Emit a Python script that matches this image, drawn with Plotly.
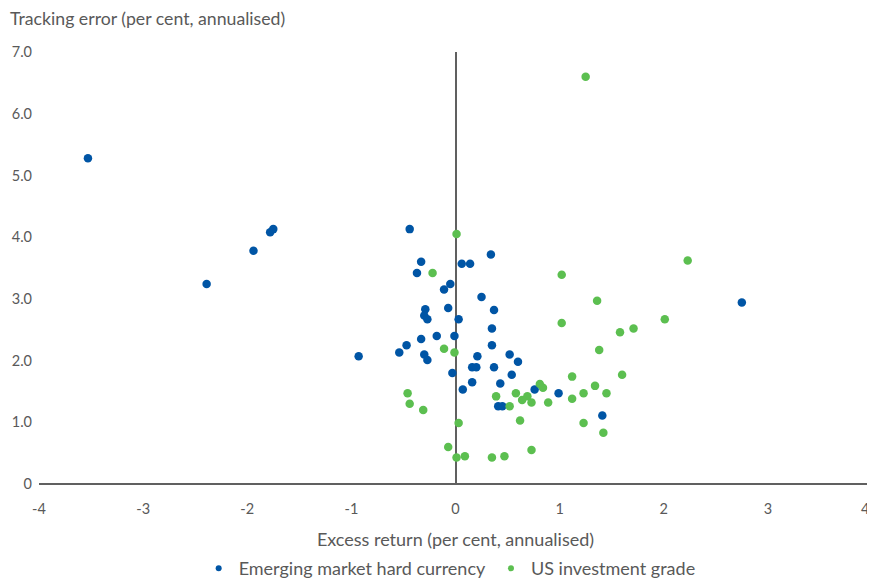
import plotly.graph_objects as go

em_x = [-3.53, -2.39, -1.94, -1.78, -1.75, -0.93, -0.44, -0.33, -0.37, -0.05, -0.11, 0.25,
        -0.29, -0.07, -0.30, -0.27, 0.03, -0.33, -0.18, -0.01, -0.47, -0.54, -0.30, -0.27,
        0.34, 0.06, 0.14, 0.37, 0.35, 0.35, 0.21, 0.16, 0.20, -0.03, 0.16, 0.07, 0.52, 0.60,
        0.37, 0.54, 0.43, 0.76, 0.99, 0.41, 0.45, 1.41, 2.75, 1.18]
em_y = [5.28, 3.24, 3.78, 4.08, 4.13, 2.07, 4.13, 3.60, 3.42, 3.24, 3.15, 3.03,
        2.83, 2.85, 2.73, 2.67, 2.67, 2.35, 2.40, 2.40, 2.25, 2.13, 2.10, 2.01,
        3.72, 3.57, 3.57, 2.82, 2.52, 2.25, 2.07, 1.89, 1.89, 1.80, 1.65, 1.53, 2.10, 1.98,
        1.89, 1.77, 1.63, 1.53, 1.47, 1.26, 1.26, 1.11, 2.94, -0.19]

us_x = [-0.22, 0.01, 1.02, 1.36, 1.02, 1.58, 1.71, 1.38, 2.23, 2.01, 1.25, -0.11, -0.01,
        -0.46, -0.44, -0.31, 0.03, -0.07, 0.01, 0.09, 0.35, 0.47, 0.73, 1.60, 1.12, 1.34,
        1.45, 1.23, 1.12, 0.81, 0.84, 0.39, 0.58, 0.69, 0.64, 0.73, 0.89, 0.52, 0.62, 1.23, 1.42]
us_y = [3.42, 4.05, 3.39, 2.97, 2.61, 2.46, 2.52, 2.17, 3.62, 2.67, 6.60, 2.19, 2.13,
        1.47, 1.30, 1.20, 0.99, 0.60, 0.43, 0.45, 0.43, 0.45, 0.55, 1.77, 1.74, 1.59,
        1.47, 1.47, 1.38, 1.62, 1.56, 1.42, 1.47, 1.42, 1.36, 1.32, 1.32, 1.26, 1.03, 0.99, 0.83]

series_names = ["Emerging market hard currency", "US investment grade"]
series_colors = ["#0055a5", "#5cbf50"]

# the last x tick label sits at the page edge, so it is drawn as a right-aligned annotation
x_ticks = [-4, -3, -2, -1, 0, 1, 2, 3, 4]
x_tick_text = ["-4", "-3", "-2", "-1", "0", "1", "2", "3", ""]
x_edge_tick = 4
x_edge_tick_text = "4"
y_ticks = [0, 1, 2, 3, 4, 5, 6, 7]
y_tick_text = ["0", "1.0", "2.0", "3.0", "4.0", "5.0", "6.0", "7.0"]

FONT = "Lato"
GREY = "#595959"

fig = go.Figure()
for xs, ys, name, color in [(em_x, em_y, series_names[0], series_colors[0]),
                            (us_x, us_y, series_names[1], series_colors[1])]:
    fig.add_trace(go.Scatter(x=xs, y=ys, mode="markers", name=name, showlegend=False,
                             marker=dict(color=color, size=8.5), cliponaxis=False))
# legend-only entries with smaller dots
for name, color in zip(series_names, series_colors):
    fig.add_trace(go.Scatter(x=[None], y=[None], mode="markers", name=name,
                             marker=dict(color=color, size=6)))

fig.update_layout(
    width=867, height=570,
    margin=dict(l=31, r=3, t=44, b=94, autoexpand=False),
    plot_bgcolor="white", paper_bgcolor="white",
    font=dict(family=FONT, size=15, color=GREY),
    showlegend=True,
    legend=dict(orientation="h", x=0.493, xanchor="center", y=-0.1528, yanchor="top",
                font=dict(size=18, color=GREY), itemwidth=30, tracegroupgap=0,
                borderwidth=0),
    xaxis=dict(range=[-4, 4], tickvals=x_ticks, ticktext=x_tick_text, showgrid=False,
               zeroline=True, zerolinecolor="#606060", zerolinewidth=2, showline=False,
               ticks="", automargin=False, ticklabelstandoff=14,
               tickfont=dict(size=14.5, color=GREY),
               title=dict(text="Excess return (per cent, annualised)", standoff=17,
                          font=dict(size=18, color=GREY))),
    yaxis=dict(range=[0, 7], tickvals=y_ticks, ticktext=y_tick_text, showgrid=False,
               zeroline=True, zerolinecolor="#606060", zerolinewidth=2, showline=False,
               ticks="", automargin=False, ticklabelstandoff=6,
               tickfont=dict(size=14.5, color=GREY)),
    annotations=[
        dict(text="Tracking error (per cent, annualised)", xref="paper", yref="paper",
             x=0, y=1, xanchor="left", yanchor="bottom", xshift=-31, yshift=21,
             showarrow=False, font=dict(size=17.7, color=GREY)),
        dict(text=x_edge_tick_text, xref="x", yref="y", x=x_edge_tick, y=0,
             xanchor="right", yanchor="middle", xshift=-1, yshift=-24,
             showarrow=False, font=dict(size=14.5, color=GREY)),
    ],
)

fig.write_html("out.html")
